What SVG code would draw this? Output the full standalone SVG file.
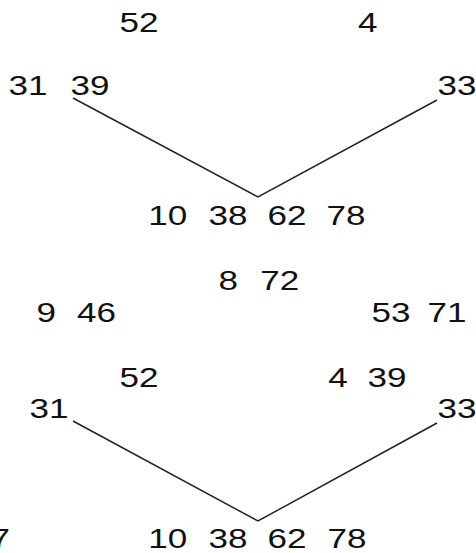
<svg xmlns="http://www.w3.org/2000/svg" width="476" height="553" viewBox="0 0 476 553">
<style>
.k{font-family:"Liberation Sans",Arial,sans-serif;font-size:27px;fill:#111}
.e{fill:none;stroke:#222;stroke-width:1.5}
</style>
<rect width="476" height="553" fill="#fff"/>
<g id="connectors">
<polyline class="e" points="73,98 258,197 437,100"/>
<polyline class="e" points="73,421 258,521 437,423"/>
</g>
<g id="t1-52"><text class="k" x="119.4" y="32" textLength="39" lengthAdjust="spacingAndGlyphs">52</text></g>
<g id="t1-4"><text class="k" x="358" y="32" textLength="19.5" lengthAdjust="spacingAndGlyphs">4</text></g>
<g id="t1-31-39"><text class="k" x="8.4" y="95" textLength="39" lengthAdjust="spacingAndGlyphs">31</text><text class="k" x="70.4" y="95" textLength="39" lengthAdjust="spacingAndGlyphs">39</text></g>
<g id="t1-33"><text class="k" x="437.4" y="95" textLength="39" lengthAdjust="spacingAndGlyphs">33</text></g>
<g id="t1-leaf"><text class="k" x="148.2" y="225" textLength="39" lengthAdjust="spacingAndGlyphs">10</text><text class="k" x="208.4" y="225" textLength="39" lengthAdjust="spacingAndGlyphs">38</text><text class="k" x="267.4" y="225" textLength="39" lengthAdjust="spacingAndGlyphs">62</text><text class="k" x="326.5" y="225" textLength="39" lengthAdjust="spacingAndGlyphs">78</text></g>
<g id="t2-8-72"><text class="k" x="218.4" y="290" textLength="19.5" lengthAdjust="spacingAndGlyphs">8</text><text class="k" x="260.3" y="290" textLength="39" lengthAdjust="spacingAndGlyphs">72</text></g>
<g id="t2-9-46"><text class="k" x="36.4" y="322" textLength="19.5" lengthAdjust="spacingAndGlyphs">9</text><text class="k" x="77" y="322" textLength="39" lengthAdjust="spacingAndGlyphs">46</text></g>
<g id="t2-53-71"><text class="k" x="371.4" y="322" textLength="39" lengthAdjust="spacingAndGlyphs">53</text><text class="k" x="427.5" y="322" textLength="39" lengthAdjust="spacingAndGlyphs">71</text></g>
<g id="t2-52"><text class="k" x="119.4" y="387" textLength="39" lengthAdjust="spacingAndGlyphs">52</text></g>
<g id="t2-4-39"><text class="k" x="328.3" y="387" textLength="19.5" lengthAdjust="spacingAndGlyphs">4</text><text class="k" x="367.4" y="387" textLength="39" lengthAdjust="spacingAndGlyphs">39</text></g>
<g id="t2-31"><text class="k" x="29.4" y="418" textLength="39" lengthAdjust="spacingAndGlyphs">31</text></g>
<g id="t2-33"><text class="k" x="437.4" y="418" textLength="39" lengthAdjust="spacingAndGlyphs">33</text></g>
<g id="t2-leaf"><text class="k" x="148.2" y="548" textLength="39" lengthAdjust="spacingAndGlyphs">10</text><text class="k" x="208.4" y="548" textLength="39" lengthAdjust="spacingAndGlyphs">38</text><text class="k" x="267.4" y="548" textLength="39" lengthAdjust="spacingAndGlyphs">62</text><text class="k" x="327.5" y="548" textLength="39" lengthAdjust="spacingAndGlyphs">78</text></g>
<g id="t2-7"><text class="k" x="-9.6" y="548" textLength="19.5" lengthAdjust="spacingAndGlyphs">7</text></g>
</svg>
